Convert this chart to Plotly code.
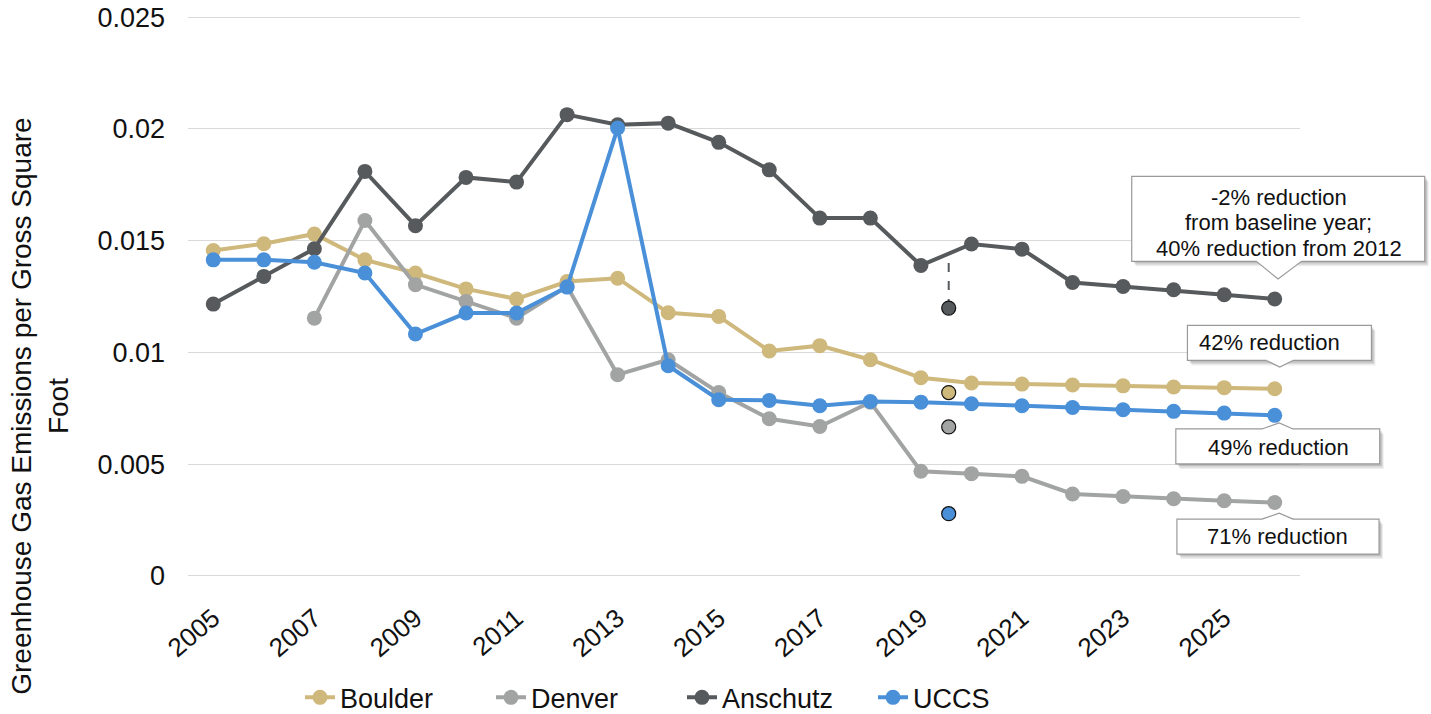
import plotly.graph_objects as go

# ---------------- data ----------------
years = list(range(2005, 2027))
boulder = [0.01456, 0.01486, 0.0153, 0.01414, 0.01355, 0.01284, 0.01239, 0.01317, 0.01332, 0.01177, 0.01161,
           0.01006, 0.0103, 0.00967, 0.00886, 0.00863, 0.00858, 0.00854, 0.0085, 0.00845, 0.00842, 0.00837]
denver = [None, None, 0.01153, 0.0159, 0.01303, 0.01228, 0.01153, 0.01295, 0.009, 0.00967, 0.0082,
          0.00703, 0.00668, 0.00777, 0.00468, 0.00457, 0.00445, 0.00366, 0.00355, 0.00345, 0.00336, 0.00328]
anschutz = [0.01216, 0.0134, 0.01464, 0.0181, 0.01567, 0.01783, 0.01762, 0.02064, 0.02019, 0.02026, 0.0194,
            0.01817, 0.01601, 0.01601, 0.01389, 0.01485, 0.01462, 0.01313, 0.01295, 0.0128, 0.01258, 0.01239]
uccs = [0.01414, 0.01414, 0.01403, 0.01355, 0.01082, 0.01176, 0.01176, 0.01292, 0.02004, 0.0094, 0.00788,
        0.00785, 0.00761, 0.0078, 0.00777, 0.0077, 0.00761, 0.00753, 0.00743, 0.00736, 0.00728, 0.00718]

series_names = ["Boulder", "Denver", "Anschutz", "UCCS"]
series_values = [boulder, denver, anschutz, uccs]
series_colors = ["#CFB87C", "#A2A4A3", "#565A5C", "#4A90D9"]

# target markers (between 2019 and 2020)
target_x = 2019.55
targets = [0.0082, 0.00666, 0.01198, 0.00278]
anschutz_dash_top = 0.0143

# callout notes (one per series, pointing at its last point)
notes = {
    "Anschutz": ["-2% reduction", "from baseline year;", "40% reduction from 2012"],
    "Boulder": ["42% reduction"],
    "UCCS": ["49% reduction"],
    "Denver": ["71% reduction"],
}

ytick_vals = [0, 0.005, 0.01, 0.015, 0.02, 0.025]
ytick_text = ["0", "0.005", "0.01", "0.015", "0.02", "0.025"]
xtick_vals = list(range(2005, 2026, 2))
y_title = "Greenhouse Gas Emissions per Gross Square<br>Foot"

# ---------------- figure ----------------
FONT = "Liberation Sans, Helvetica, Arial, sans-serif"
X_RANGE = [2004.5, 2026.5]
Y_PAD = 0.0001  # small padding so the 0 and 0.025 gridlines are drawn
Y_RANGE = [0 - Y_PAD, 0.025 + Y_PAD]
FIG_W, FIG_H = 1431, 714
PX_PER_UNIT = 558.5 / 0.025
M_L, M_R = 188, 131
M_T = 17.5 - Y_PAD * PX_PER_UNIT
M_B = 138 - Y_PAD * PX_PER_UNIT
PLOT_W = FIG_W - M_L - M_R
PLOT_H = FIG_H - M_T - M_B

fig = go.Figure()
for name, vals, col in zip(series_names, series_values, series_colors):
    fig.add_trace(go.Scatter(
        x=years, y=vals, name=name, mode="lines+markers",
        line=dict(color=col, width=4), marker=dict(color=col, size=15),
        connectgaps=False,
    ))

# dashed connector for Anschutz target
fig.add_trace(go.Scatter(
    x=[target_x, target_x], y=[targets[2], anschutz_dash_top], mode="lines",
    line=dict(color="#565A5C", width=2, dash="dash"), showlegend=False, hoverinfo="skip"))

for t, col in zip(targets, series_colors):
    fig.add_trace(go.Scatter(
        x=[target_x], y=[t], mode="markers", showlegend=False,
        marker=dict(color=col, size=14, line=dict(color="#111111", width=1.2))))


def to_paper(xv, yv, dx_px=0.0, dy_px=0.0):
    """data point + pixel offset (dy positive = up) -> paper coords"""
    fx = (xv - X_RANGE[0]) / (X_RANGE[1] - X_RANGE[0]) + dx_px / PLOT_W
    fy = (yv - Y_RANGE[0]) / (Y_RANGE[1] - Y_RANGE[0]) + dy_px / PLOT_H
    return fx, fy


# callout geometry in pixels relative to the pointed-at point (y positive up)
# (left, right, top, bottom, notch_left, notch_right, tip_x, tip_y)
callout_geom = {
    "Anschutz": (-143, 150, 122.6, 37.6, -18.3, 26.7, 3.3, 20),
    "Boulder": (-87.3, 96.7, 63.3, 28.3, -8.3, 18.3, 5, 21.7),
    "UCCS": (-98.9, 105, -13.6, -48.6, -12.8, 18.3, 4.5, -7.6),
    "Denver": (-97.8, 104.3, -16.6, -51.6, -12.8, 18.3, 4.5, -10.6),
}
text_offsets = {
    "Anschutz": (4, [101, 76, 50]),
    "Boulder": (-5.5, [46.3]),
    "UCCS": (3.5, [-32]),
    "Denver": (3, [-34]),
}


def poly(xv, yv, pts, close=True):
    coords = [to_paper(xv, yv, a, b) for a, b in pts]
    s = "M " + " L ".join(f"{cx:.6f},{cy:.6f}" for cx, cy in coords)
    return s + (" Z" if close else "")


BORDER = "#9a9a9a"
shapes = []
annotations = []
for name, vals in zip(series_names, series_values):
    l, r, t, b, nl, nr, tx, ty = callout_geom[name]
    xv, yv = years[-1], vals[-1]
    above = b > 0                      # box sits above the point
    top, bot = t, b
    edge = bot if above else top       # edge carrying the notch (the one facing the point)
    inward = 2.0 if above else -2.0    # direction into the box
    # soft drop shadow
    for sdx, sdy, op in [(4, -5, 0.07), (3, -3.5, 0.09), (2, -2, 0.11)]:
        shapes.append(dict(type="path", xref="paper", yref="paper",
                           path=poly(xv, yv, [(l + sdx, top + sdy), (r + sdx, top + sdy),
                                              (r + sdx, bot + sdy), (l + sdx, bot + sdy)]),
                           fillcolor=f"rgba(0,0,0,{op})", line=dict(width=0), layer="above"))
    # box
    shapes.append(dict(type="path", xref="paper", yref="paper",
                       path=poly(xv, yv, [(l, top), (r, top), (r, bot), (l, bot)]),
                       fillcolor="white", line=dict(color=BORDER, width=1.2), layer="above"))
    # notch fill (covers the border under the notch)
    shapes.append(dict(type="path", xref="paper", yref="paper",
                       path=poly(xv, yv, [(nl + 0.8, edge + inward), (nl, edge), (tx, ty), (nr, edge),
                                          (nr - 0.8, edge + inward)]),
                       fillcolor="white", line=dict(width=0), layer="above"))
    # notch sides
    shapes.append(dict(type="path", xref="paper", yref="paper",
                       path=poly(xv, yv, [(nl, edge), (tx, ty), (nr, edge)], close=False),
                       fillcolor="rgba(0,0,0,0)", line=dict(color=BORDER, width=1.2), layer="above"))
    xs, ys = text_offsets[name]
    for line_txt, yo in zip(notes[name], ys):
        annotations.append(dict(x=xv, y=yv, xref="x", yref="y", text=line_txt,
                                showarrow=False, xshift=xs, yshift=yo, xanchor="center", yanchor="middle",
                                font=dict(family=FONT, size=22, color="#111111")))

title_x, title_y = to_paper(X_RANGE[0], 0.0, -148, 169)
annotations.append(dict(x=title_x, y=title_y, xref="paper", yref="paper", text=y_title, textangle=-90,
                        showarrow=False, xanchor="center", yanchor="middle",
                        font=dict(family=FONT, size=28, color="#111111")))

legend_x, legend_y = to_paper(X_RANGE[0], 0.0, 112, -122)
fig.update_layout(
    width=FIG_W, height=FIG_H,
    margin=dict(l=M_L, r=M_R, t=M_T, b=M_B, autoexpand=False),
    paper_bgcolor="white", plot_bgcolor="white",
    font=dict(family=FONT, color="#111111"),
    showlegend=True,
    legend=dict(orientation="h", x=legend_x, xanchor="left", y=legend_y, yanchor="middle",
                font=dict(family=FONT, size=27), entrywidth=146, entrywidthmode="pixels",
                tracegroupgap=0, bgcolor="rgba(0,0,0,0)"),
    shapes=shapes, annotations=annotations,
)
fig.update_xaxes(range=X_RANGE, tickvals=xtick_vals, tickangle=-40, showgrid=False, zeroline=False,
                 showline=False, ticks="", tickfont=dict(family=FONT, size=26, color="#111111"),
                 ticklabelstandoff=19, automargin=False)
fig.update_yaxes(range=Y_RANGE, tickvals=ytick_vals, ticktext=ytick_text, showgrid=True, gridcolor="#d9d9d9",
                 gridwidth=1.3, zeroline=False, showline=False, ticks="",
                 tickfont=dict(family=FONT, size=27, color="#111111"), ticklabelstandoff=22, automargin=False)

fig.write_html("out.html", config={"displayModeBar": False},
               post_script="document.body.style.margin='0px';")
